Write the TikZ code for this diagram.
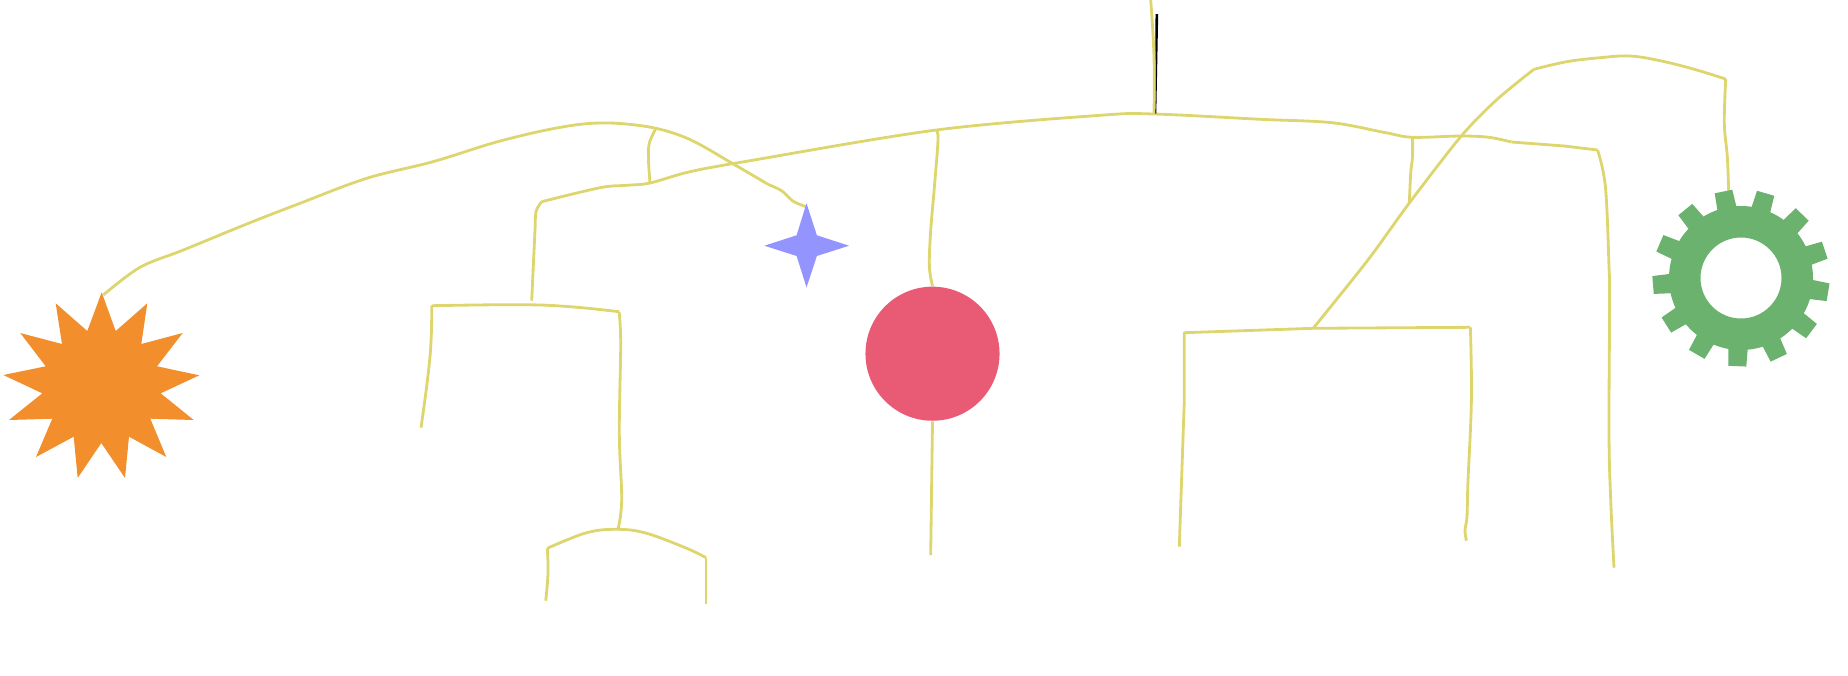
\documentclass[tikz,border=0pt]{standalone}
\usepackage{xcolor}
\usetikzlibrary{calc,positioning}
\definecolor{wirecol}{HTML}{DDD66F}
\definecolor{sparkcol}{HTML}{F28E2B}
\definecolor{twinklecol}{HTML}{9494FF}
\definecolor{ballcol}{HTML}{E95B75}
\definecolor{cogcol}{HTML}{6BB26F}
\begin{document}
\begin{tikzpicture}[x=0.01cm, y=-0.01cm,
    wire/.style={draw=wirecol, line width=0.8pt, line join=round},
    ball/.style={circle, fill=ballcol, inner sep=0pt, minimum size=1.34cm}]
  \useasboundingbox (0,0) rectangle (1848,675);
  % pink ball
  \node[ball] (pinkball) at (932.5,353.7) {};
  % junctions
  \coordinate (sparktip) at (103.3,295);
  \coordinate (twinkletip) at (806,206.7);
  \coordinate (cogtop) at (1728.7,191.7);
  \coordinate (topjoin) at (656,128.3);
  \coordinate (midjoin) at (650,183);
  \coordinate (mainjoin) at (1154,114);
  \coordinate (balljoin) at (936.3,130);
  \coordinate (cornerR) at (1597.5,150);
  \coordinate (stubjoin) at (1412.5,137.3);
  \coordinate (diagend) at (1409.3,203);
  \coordinate (archtop) at (1313.2,328.3);
  \coordinate (bowjoin) at (618,529.3);
  % upper curve from the spark to the blue star
  \draw[wire] plot[smooth, tension=0.55] coordinates {(sparktip) (140,267.3) (183.3,250) (250,222.7) (300,203.3) (366.7,178.3) (433,161.7) (493,143) (543,130.7) (583,124) (617,123.3) (topjoin) (691,140) (733.4,164) (768,184.3)};
  \draw[wire] plot[smooth, tension=0.6] coordinates {(768,184.3) (782,191) (792.8,201) (twinkletip)};
  \draw[wire] plot[smooth, tension=0.6] coordinates {(topjoin) (649.3,143.3) (648.5,160) (midjoin)};
  % long main line
  \draw[wire] plot[smooth, tension=0.6] coordinates {(531.7,300.7) (535,230) (536,211.7) (541.7,201.7)};
  \draw[wire] plot[smooth, tension=0.55] coordinates {(541.7,201.7) (600,187.7) (626.7,185.3) (midjoin) (690,171.7) (750,160.7) (balljoin) (1100,115.3) (mainjoin) (1260.7,119.3) (1332,122.7) (1385.7,132.7) (stubjoin) (1460.7,136) (1489,137.3) (1511.4,142)};
  \draw[wire] (1511.4,142) -- (1564.3,146) -- (cornerR);
  \draw[wire] plot[smooth, tension=0.6] coordinates {(cornerR) (1605.4,186.7) (1609,266.7) (1609.6,300) (1609,433) (1610.7,500) (1614,567.7)};
  % feed from the top
  \fill[black] (1155.5,14) -- (1158.2,14) -- (1156.3,113.5) -- (1155.2,113.5) -- cycle;
  \draw[wire] plot[smooth, tension=0.7] coordinates {(1150.7,0) (1154,56.7) (mainjoin)};
  % drop through the ball
  \draw[wire] plot[smooth, tension=0.6] coordinates {(balljoin) (938,140) (934.4,186.7) (930.5,233.3) (929.4,266.7) (pinkball.north)};
  \draw[wire] plot[smooth, tension=0.7] coordinates {(pinkball.south) (931.7,480) (930.7,555)};
  % stub and diagonal
  \draw[wire] plot[smooth, tension=0.6] coordinates {(stubjoin) (1412.5,156.7) (1410.7,173.3) (diagend)};
  \draw[wire] plot[smooth, tension=0.5] coordinates {(archtop) (1367.9,260) (diagend) (1460.7,136.7) (1496.4,100) (1533.9,69.3)};
  \draw[wire] plot[smooth, tension=0.6] coordinates {(1533.9,69.3) (1566.7,61.7) (1600,57.7) (1630,56) (1660,60.7) (1693.3,69) (1725.7,79)};
  \draw[wire] plot[smooth, tension=0.6] coordinates {(1725.7,79) (1724.3,123.3) (1727.3,156.7) (cogtop)};
  % right frame
  \draw[wire] (1179.3,546.7) -- (1184.3,400) -- (1184.3,332.7) -- (archtop) -- (1470.4,327.3);
  \draw[wire] plot[smooth, tension=0.6] coordinates {(1470.4,327.3) (1471.4,400) (1467.9,483.3) (1467,516.7) (1465,530) (1466.4,540.7)};
  % left frame
  \draw[wire] plot[smooth, tension=0.7] coordinates {(421,427.7) (430,356.7) (431.7,305.7)};
  \draw[wire] plot[smooth, tension=0.7] coordinates {(431.7,305.7) (520,304.7) (570,306.7) (619,311.7)};
  \draw[wire] plot[smooth, tension=0.6] coordinates {(619,311.7) (620.7,343.3) (619.3,433.3) (621.7,500) (bowjoin)};
  % bow below
  \draw[wire] plot[smooth, tension=0.6] coordinates {(547.3,548.3) (586.7,532.7) (bowjoin) (646.7,533.3) (686.7,548.3) (706,557.7)};
  \draw[wire] plot[smooth, tension=0.7] coordinates {(545.7,600.7) (548,573.3) (547.3,548.3)};
  \draw[wire] (706,557.7) -- (706,604);
  % spark
  \fill[sparkcol] (101.7,292.3) -- (115.7,331) -- (147.3,303.3) -- (141.3,344) -- (182.7,333) -- (157,366.3) -- (199.3,375.3) -- (160.7,393.3) -- (193.7,420) -- (150.3,418.7) -- (166.3,457) -- (129,436.7) -- (125,478) -- (101.3,443) -- (77.7,478) -- (73.7,436.7) -- (36,457) -- (52.3,418.7) -- (9,420) -- (42.3,393.3) -- (3.3,375) -- (45.7,366.3) -- (20.3,333) -- (62,344) -- (55.7,303.3) -- (87.3,331) -- cycle;
  % blue star
  \fill[twinklecol] (806.5,203.3) -- (816.9,235.3) -- (849,245.7) -- (816.9,256) -- (806.5,287.3) -- (796.6,256) -- (764.4,245.7) -- (796.6,235.3) -- cycle;
  % cog
  \coordinate (cog) at (1741,278);
  \fill[cogcol, even odd rule] (cog) circle (72) (cog) circle (40.5);
  \foreach \t in {0,...,12} {
    \pgfmathsetmacro\a{92.4+27.69*\t}
    \fill[cogcol, shift={(cog)}] (\a-8:70) -- (\a-5.8:88.7) -- (\a+5.8:88.7) -- (\a+8:70) -- cycle;
  }
\end{tikzpicture}
\end{document}
